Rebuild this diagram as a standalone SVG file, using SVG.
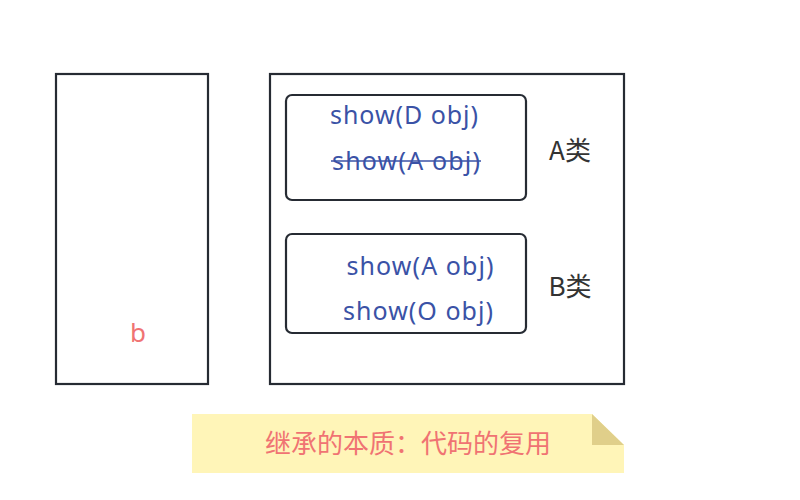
<svg xmlns="http://www.w3.org/2000/svg" width="800" height="500" viewBox="0 0 800 500">
<style>
.box{fill:#fff;stroke:#262b33;stroke-width:2.2}
.m{font-family:"Noto Sans","Open Sans",sans-serif;font-size:25px;fill:#3a52a6;text-anchor:middle}
.c{font-family:"Noto Sans CJK SC","Noto Sans",sans-serif;font-size:26px;fill:#333;text-anchor:middle}
.r{fill:#f07373}
</style>
<rect width="800" height="500" fill="#fff"/>
<g id="b-obj">
<rect class="box" x="56" y="74" width="152" height="310"/>
<text x="138" y="342" class="m r" style="font-size:26px">b</text>
</g>
<g id="outer">
<rect class="box" x="270" y="74" width="354" height="310"/>
</g>
<g id="classA">
<rect class="box" x="286" y="95" width="240" height="105" rx="6"/>
<text x="404" y="124" class="m" textLength="148" lengthAdjust="spacing">show(D obj)</text>
<text x="406" y="170" class="m" textLength="148" lengthAdjust="spacing">show(A obj)</text>
<line x1="331" y1="161" x2="481" y2="161" stroke="#3a52a6" stroke-width="1.5"/>
<text x="570" y="160" class="c">A类</text>
</g>
<g id="classB">
<rect class="box" x="286" y="234" width="240" height="99" rx="6"/>
<text x="420" y="275" class="m" textLength="147" lengthAdjust="spacing">show(A obj)</text>
<text x="418" y="320" class="m" textLength="150" lengthAdjust="spacing">show(O obj)</text>
<text x="570" y="296" class="c">B类</text>
</g>
<g id="note">
<polygon points="192,414 592,414 624,445 624,473 192,473" fill="#fff5b8"/>
<polygon points="592,414 592,445 624,445" fill="#e0cf8a"/>
<text x="408" y="453" class="c" style="fill:#f07373">继承的本质：代码的复用</text>
</g>
<g id="connectors"></g>
</svg>
